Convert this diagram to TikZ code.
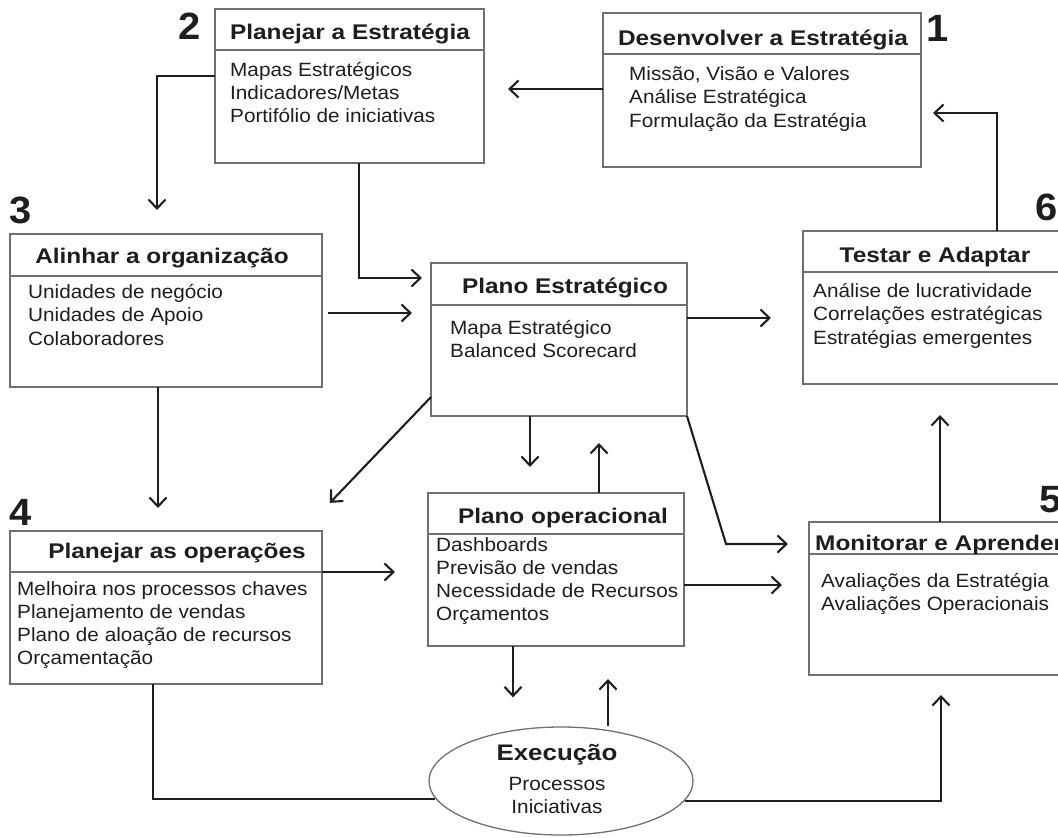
\documentclass[tikz,border=0pt]{standalone}
\usepackage{fontspec}
\setmainfont{Liberation Sans}[FakeStretch=1.08]
\newfontfamily\headfont{Liberation Sans}[FakeStretch=1.15]
\newfontfamily\numfont{Liberation Sans}[FakeStretch=1.05]
\usetikzlibrary{arrows.meta,shapes.geometric}
\definecolor{boxgray}{HTML}{707070}
\definecolor{ink}{HTML}{1E1E1E}
\begin{document}
\begin{tikzpicture}[x=1pt,y=-1pt,
  box/.style={draw=boxgray, line width=1.3pt, fill=white, rectangle, inner sep=0pt, outer sep=0pt, anchor=north west},
  divider/.style={draw=boxgray, line width=1.3pt},
  title/.style={font=\headfont\bfseries\fontsize{21.2}{25}\selectfont, text=ink, inner sep=0pt, anchor=base},
  item/.style={font=\fontsize{19.2}{23}\selectfont, text=ink, inner sep=0pt, anchor=base west},
  num/.style={font=\numfont\bfseries\fontsize{38}{42}\selectfont, text=ink, inner sep=0pt},
  link/.style={draw=ink, line width=2.1pt},
  arr/.style={link, -{Straight Barb[length=9pt,width=17pt,line width=2.1pt]}},
]
\useasboundingbox (0,0) rectangle (1058,838);
\clip (0,0) rectangle (1058,838);

% ---------- boxes ----------
\node[box, minimum width=269pt, minimum height=154pt] (plan)  at (215,9)   {};
\node[box, minimum width=318pt, minimum height=154pt] (dev)   at (603,13)  {};
\node[box, minimum width=312pt, minimum height=153pt] (align) at (10,234)  {};
\node[box, minimum width=312pt, minimum height=153pt] (ops)   at (10,531)  {};
\node[box, minimum width=256pt, minimum height=153pt] (pe)    at (431,263) {};
\node[box, minimum width=256pt, minimum height=153pt] (po)    at (428,493) {};
\node[box, minimum width=264pt, minimum height=153pt] (test)  at (803,231) {};
\node[box, minimum width=262pt, minimum height=153pt] (mon)   at (809,522) {};
\node[ellipse, draw=boxgray, line width=1.3pt, fill=white, minimum width=264pt,
      minimum height=108pt, inner sep=0pt] (exec) at (561,781) {};

% header dividers
\draw[divider] (plan.west  |- 0,50)  -- (plan.east  |- 0,50);
\draw[divider] (dev.west   |- 0,54)  -- (dev.east   |- 0,54);
\draw[divider] (align.west |- 0,276) -- (align.east |- 0,276);
\draw[divider] (ops.west   |- 0,572) -- (ops.east   |- 0,572);
\draw[divider] (pe.west    |- 0,305) -- (pe.east    |- 0,305);
\draw[divider] (po.west    |- 0,534) -- (po.east    |- 0,534);
\draw[divider] (test.west  |- 0,272) -- (test.east  |- 0,272);
\draw[divider] (mon.west   |- 0,554) -- (mon.east   |- 0,554);

% ---------- titles ----------
\node[title] (planT)  at (350,39)  {Planejar a Estratégia};
\node[title] (devT)   at (763,45)  {Desenvolver a Estratégia};
\node[title] (alignT) at (162,263) {Alinhar a organização};
\node[title] (opsT)   at (177,558) {Planejar as operações};
\node[title] (peT)    at (565,293) {Plano Estratégico};
\node[title] (poT)    at (563,523) {Plano operacional};
\node[title] (testT)  at (935,262) {Testar e Adaptar};
\node[title, anchor=base west] (monT) at (815,550) {Monitorar e Aprender};

% ---------- items ----------
\foreach \t [count=\i] in {Mapas Estratégicos, Indicadores/Metas, Portifólio de iniciativas}
  \node[item] (planL\i) at (230,{76+23*(\i-1)}) {\t};
\foreach \t [count=\i] in {{Missão, Visão e Valores}, Análise Estratégica, Formulação da Estratégia}
  \node[item] (devL\i) at (629,{80+23.5*(\i-1)}) {\t};
\foreach \t [count=\i] in {Unidades de negócio, Unidades de Apoio, Colaboradores}
  \node[item] (alignL\i) at (28,{298+23.5*(\i-1)}) {\t};
\foreach \t [count=\i] in {Melhoira nos processos chaves, Planejamento de vendas, Plano de aloação de recursos, Orçamentação}
  \node[item] (opsL\i) at (17,{595+23.3*(\i-1)}) {\t};
\foreach \t [count=\i] in {Mapa Estratégico, Balanced Scorecard}
  \node[item] (peL\i) at (450,{334+23*(\i-1)}) {\t};
\foreach \t [count=\i] in {Dashboards, Previsão de vendas, Necessidade de Recursos, Orçamentos}
  \node[item] (poL\i) at (436,{551+23.3*(\i-1)}) {\t};
\foreach \t [count=\i] in {Análise de lucratividade, Correlações estratégicas, Estratégias emergentes}
  \node[item] (testL\i) at (813,{297+23.5*(\i-1)}) {\t};
\foreach \t [count=\i] in {Avaliações da Estratégia, Avaliações Operacionais}
  \node[item] (monL\i) at (821,{587+23*(\i-1)}) {\t};

% execution oval text
\node[title, font=\headfont\bfseries\fontsize{22.5}{26}\selectfont] (execT) at (557,760) {Execução};
\node[item, anchor=base] (execL1) at (557,790) {Processos};
\node[item, anchor=base] (execL2) at (557,813) {Iniciativas};

% ---------- step numbers ----------
\node[num] (n1) at (938,28)  {1};
\node[num] (n2) at (190,26)  {2};
\node[num] (n3) at (21,210)  {3};
\node[num] (n4) at (21,512)  {4};
\node[num, anchor=west] (n5) at (1039,500) {5};
\node[num, anchor=west] (n6) at (1035,207) {6};

% ---------- connectors ----------
\draw[arr, shorten >=24pt] (dev.west |- 0,89) -- (plan.east |- 0,89);
\draw[arr, shorten >=12pt] (test.north -| 997,0) |- (dev.east |- 0,113);
\draw[arr, shorten >=24pt] (plan.west |- 0,76) -| (align.north -| 157,0);
\draw[arr, shorten >=9pt]  (plan.south -| 359,0) |- (pe.west |- 0,278);
\draw[arr, shorten <=6pt, shorten >=19pt] (align.east |- 0,313) -- (pe.west |- 0,313);
\draw[arr, shorten >=32pt] (pe.east |- 0,318) -- (test.west |- 0,318);
\draw[arr, shorten >=23pt] (align.south -| 158,0) -- (ops.north -| 158,0);
\draw[arr, shorten >=39pt] (pe.west |- 0,397) -- (ops.north -| 303,0);
\draw[arr, shorten >=33pt] (ops.east |- 0,572) -- (po.west |- 0,572);
\draw[arr, shorten >=26pt] (pe.south -| 530,0) -- (po.north -| 530,0);
\draw[arr, shorten >=27pt] (po.north -| 599,0) -- (pe.south -| 599,0);
\draw[arr, shorten >=21pt] (pe.south east) -- (726,544) -- (mon.west |- 0,544);
\draw[arr, shorten >=27pt] (po.east |- 0,585) -- (mon.west |- 0,585);
\draw[arr, shorten >=31pt] (mon.north -| 940,0) -- (test.south -| 940,0);
\draw[arr, shorten >=29pt] (po.south -| 513,0) -- (exec.north -| 513,0);
\draw[arr, shorten >=33pt] (exec.north -| 608,0) -- (po.south -| 608,0);
\draw[link] (ops.south -| 153,0) |- (exec.188.6);
\draw[arr, shorten >=20pt] (exec.351.4) -| (mon.south -| 941,0);
\end{tikzpicture}
\end{document}
